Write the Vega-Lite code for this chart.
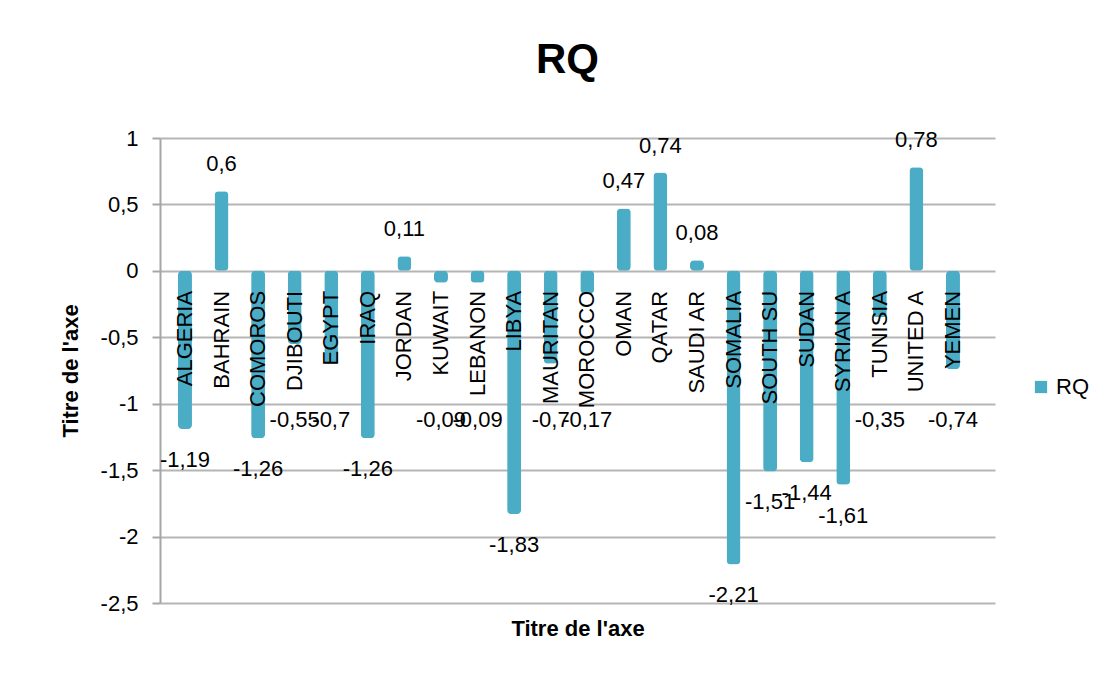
{
  "$schema": "https://vega.github.io/schema/vega-lite/v6.json",
  "width": 835,
  "height": 465,
  "autosize": "none",
  "padding": {"left": 160, "top": 138, "right": 113, "bottom": 71},
  "background": "white",
  "config": {
    "font": "Liberation Sans",
    "view": {"stroke": null},
    "locale": {"number": {"decimal": ",", "thousands": ".", "grouping": [3], "currency": ["", " €"], "minus": "-"}}
  },
  "title": {"text": "RQ", "fontSize": 42, "fontWeight": "bold", "font": "Liberation Sans", "color": "black", "anchor": "middle", "frame": "group", "baseline": "alphabetic", "offset": 12, "dx": -10},
  "data": {"values": [
    {"Country": "ALGERIA", "RQ": -1.19},
    {"Country": "BAHRAIN", "RQ": 0.6},
    {"Country": "COMOROS", "RQ": -1.26},
    {"Country": "DJIBOUTI", "RQ": -0.55},
    {"Country": "EGYPT", "RQ": -0.7},
    {"Country": "IRAQ", "RQ": -1.26},
    {"Country": "JORDAN", "RQ": 0.11},
    {"Country": "KUWAIT", "RQ": -0.09},
    {"Country": "LEBANON", "RQ": -0.09},
    {"Country": "LIBYA", "RQ": -1.83},
    {"Country": "MAURITAN", "RQ": -0.7},
    {"Country": "MOROCCO", "RQ": -0.17},
    {"Country": "OMAN", "RQ": 0.47},
    {"Country": "QATAR", "RQ": 0.74},
    {"Country": "SAUDI AR", "RQ": 0.08},
    {"Country": "SOMALIA", "RQ": -2.21},
    {"Country": "SOUTH SU", "RQ": -1.51},
    {"Country": "SUDAN", "RQ": -1.44},
    {"Country": "SYRIAN A", "RQ": -1.61},
    {"Country": "TUNISIA", "RQ": -0.35},
    {"Country": "UNITED A", "RQ": 0.78},
    {"Country": "YEMEN", "RQ": -0.74}
  ]},
  "encoding": {
    "x": {
      "field": "Country", "type": "nominal", "sort": null,
      "scale": {"paddingInner": 0, "paddingOuter": 0.416, "align": 0.22},
      "axis": {"title": "Titre de l'axe", "labels": false, "ticks": false, "domain": false, "titleFontSize": 22, "titleFontWeight": "bold", "titleColor": "black", "titlePadding": 15, "titleFont": "Liberation Sans"}
    }
  },
  "layer": [
    {
      "mark": {"type": "bar", "size": 14, "cornerRadius": 4},
      "encoding": {
        "y": {
          "field": "RQ", "type": "quantitative",
          "scale": {"domain": [-2.5, 1], "nice": false, "zero": true},
          "axis": {
            "title": "Titre de l'axe", "values": [-2.5, -2, -1.5, -1, -0.5, 0, 0.5, 1], "format": ".1~f",
            "labelFontSize": 22, "labelColor": "black", "labelPadding": 14, "labelFont": "Liberation Sans",
            "tickSize": 8, "tickColor": "#a6a6a6", "tickWidth": 2,
            "domainColor": "#a6a6a6", "domainWidth": 2,
            "grid": true, "gridColor": "#b5b5b5", "gridWidth": 2,
            "titleFontSize": 22, "titleFontWeight": "bold", "titleColor": "black", "titlePadding": 18, "titleFont": "Liberation Sans"
          }
        },
        "color": {
          "datum": "RQ",
          "scale": {"range": ["#4bacc6"]},
          "legend": {"title": null, "orient": "none", "legendX": 870, "legendY": 238, "symbolType": "square", "symbolSize": 150, "symbolStrokeWidth": 0, "labelFontSize": 22, "labelColor": "black", "labelFont": "Liberation Sans"}
        }
      }
    },
    {
      "mark": {"type": "text", "angle": 270, "align": "right", "baseline": "middle", "dx": -20, "fontSize": 22, "color": "black"},
      "encoding": {
        "y": {"datum": 0, "type": "quantitative"},
        "text": {"field": "Country"}
      }
    },
    {
      "transform": [{"filter": "datum.RQ >= 0"}],
      "mark": {"type": "text", "baseline": "middle", "dy": -27, "fontSize": 22, "color": "black"},
      "encoding": {
        "y": {"field": "RQ", "type": "quantitative"},
        "text": {"field": "RQ", "type": "quantitative", "format": ".2~f"}
      }
    },
    {
      "transform": [{"filter": "datum.RQ <= -1"}],
      "mark": {"type": "text", "baseline": "middle", "dy": 31, "fontSize": 22, "color": "black"},
      "encoding": {
        "y": {"field": "RQ", "type": "quantitative"},
        "text": {"field": "RQ", "type": "quantitative", "format": ".2~f"}
      }
    },
    {
      "transform": [{"filter": "datum.RQ < 0 && datum.RQ > -1"}],
      "mark": {"type": "text", "baseline": "middle", "fontSize": 22, "color": "black"},
      "encoding": {
        "y": {"datum": -1.12, "type": "quantitative"},
        "text": {"field": "RQ", "type": "quantitative", "format": ".2~f"}
      }
    }
  ]
}
